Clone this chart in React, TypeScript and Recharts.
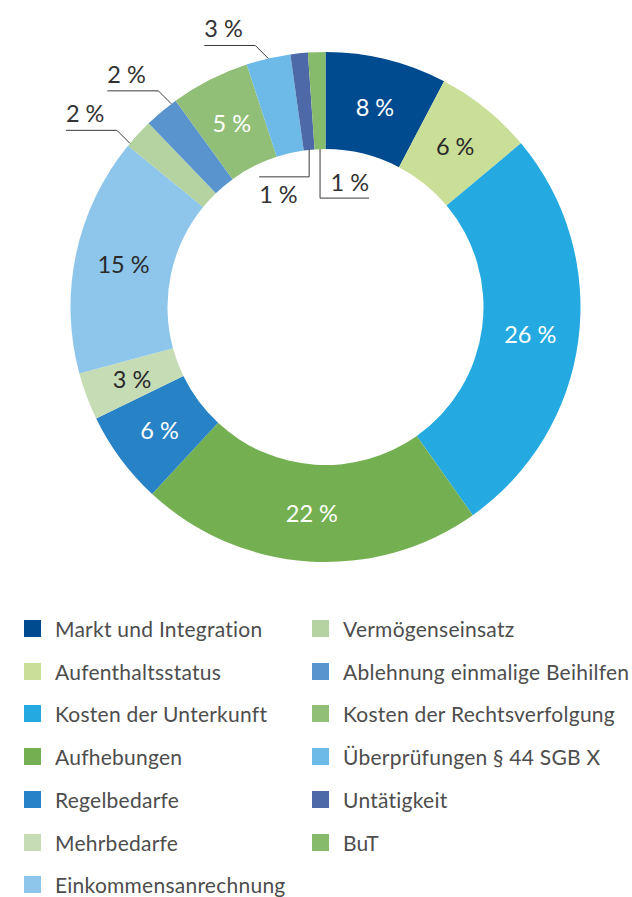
import React from 'react';
import { PieChart, Pie, Cell, Legend } from 'recharts';

// Anteile der Themen in Prozent
const categories = [
  'Markt und Integration',
  'Aufenthaltsstatus',
  'Kosten der Unterkunft',
  'Aufhebungen',
  'Regelbedarfe',
  'Mehrbedarfe',
  'Einkommensanrechnung',
  'Vermögenseinsatz',
  'Ablehnung einmalige Beihilfen',
  'Kosten der Rechtsverfolgung',
  'Überprüfungen § 44 SGB X',
  'Untätigkeit',
  'BuT',
];

const shares = [7.7, 6.2, 26.3, 21.7, 5.9, 3.0, 15.1, 1.9, 2.2, 5.0, 2.8, 1.1, 1.1];

const colors = [
  '#004a8f',
  '#c9df97',
  '#24a9e0',
  '#74b052',
  '#2783c6',
  '#c6dcb4',
  '#8ec6eb',
  '#b4d3a0',
  '#5a94cf',
  '#92bf77',
  '#6dbae8',
  '#4e69a8',
  '#87bb6c',
];

const data = categories.map((name, i) => ({ name, value: shares[i] }));

const FONT = 'Lato, "Open Sans", sans-serif';
const RAD = Math.PI / 180;
const LABEL_SIZE = 23.5;

// Beschriftungsart je Segment
const darkText = new Set(['Aufenthaltsstatus', 'Mehrbedarfe', 'Einkommensanrechnung']);
const leaderUp: Record<string, number> = {
  'Vermögenseinsatz': 0.1,
  'Ablehnung einmalige Beihilfen': 0.85,
  'Überprüfungen § 44 SGB X': 0.5,
};

const polar = (cx: number, cy: number, r: number, angle: number) => ({
  x: cx + r * Math.cos(-angle * RAD),
  y: cy + r * Math.sin(-angle * RAD),
});

const renderLabel = (props: any) => {
  const { cx, cy, midAngle, innerRadius, outerRadius, startAngle, endAngle, name, value } = props;
  const text = `${Math.round(value)} %`;
  const lineColor = '#3a3a3a';

  if (name in leaderUp) {
    const t = leaderUp[name];
    const a = startAngle + t * (endAngle - startAngle);
    const s = polar(cx, cy, outerRadius, a);
    const ex = s.x - 13;
    const ey = s.y - 13;
    const endX = ex - 51;
    return (
      <g>
        <polyline points={`${s.x},${s.y} ${ex},${ey} ${endX},${ey}`} fill="none" stroke={lineColor} strokeWidth={1} />
        <text x={endX} y={ey - 8} fill="#333" fontSize={LABEL_SIZE} fontFamily={FONT} textAnchor="start">
          {text}
        </text>
      </g>
    );
  }

  if (name === 'Untätigkeit') {
    const s = polar(cx, cy, innerRadius, midAngle);
    const ey = s.y + 27;
    const endX = s.x - 50;
    return (
      <g>
        <polyline points={`${s.x},${s.y} ${s.x},${ey} ${endX},${ey}`} fill="none" stroke={lineColor} strokeWidth={1} />
        <text x={endX} y={ey + 26} fill="#333" fontSize={LABEL_SIZE} fontFamily={FONT} textAnchor="start">
          {text}
        </text>
      </g>
    );
  }

  if (name === 'BuT') {
    const s = polar(cx, cy, innerRadius, midAngle);
    const ey = s.y + 49;
    const endX = s.x + 49;
    return (
      <g>
        <polyline points={`${s.x},${s.y} ${s.x},${ey} ${endX},${ey}`} fill="none" stroke={lineColor} strokeWidth={1} />
        <text x={endX} y={ey - 7} fill="#333" fontSize={LABEL_SIZE} fontFamily={FONT} textAnchor="end">
          {text}
        </text>
      </g>
    );
  }

  const p = polar(cx, cy, (innerRadius + outerRadius) / 2, midAngle);
  return (
    <text
      x={p.x}
      y={p.y}
      fill={darkText.has(name) ? '#2a2a2a' : '#ffffff'}
      fontSize={LABEL_SIZE}
      fontFamily={FONT}
      textAnchor="middle"
      dominantBaseline="central"
    >
      {text}
    </text>
  );
};

const renderLegend = () => {
  const perColumn = 7;
  return (
    <div style={{ position: 'relative', width: 632, height: 290, fontFamily: FONT }}>
      {categories.map((name, i) => {
        const col = i < perColumn ? 0 : 1;
        const row = col === 0 ? i : i - perColumn;
        return (
          <div
            key={name}
            style={{
              position: 'absolute',
              left: col === 0 ? 24 : 312,
              top: row * 42.7,
              height: 17,
              display: 'flex',
              alignItems: 'center',
              whiteSpace: 'nowrap',
            }}
          >
            <span style={{ width: 17, height: 17, background: colors[i], display: 'inline-block', flex: 'none' }} />
            <span style={{ marginLeft: 14, fontSize: 21, letterSpacing: 0.25, color: '#4d4d4d', lineHeight: '17px' }}>
              {name}
            </span>
          </div>
        );
      })}
    </div>
  );
};

export default function App() {
  return (
    <div style={{ width: 632, height: 897, overflow: 'hidden', background: '#fff' }}>
      <style>{'body{margin:0}'}</style>
      <PieChart width={632} height={897} margin={{ top: 0, right: 0, bottom: 0, left: 0 }}>
        <Pie
          data={data}
          dataKey="value"
          nameKey="name"
          cx={325.5}
          cy={307}
          innerRadius={158}
          outerRadius={255}
          startAngle={90}
          endAngle={-270}
          stroke="none"
          label={renderLabel}
          labelLine={false}
          isAnimationActive={false}
        >
          {data.map((entry, index) => (
            <Cell key={`cell-${index}`} fill={colors[index]} />
          ))}
        </Pie>
        <Legend
          content={renderLegend}
          wrapperStyle={{ position: 'absolute', left: 0, top: 620, width: 632, height: 290 }}
        />
      </PieChart>
    </div>
  );
}
